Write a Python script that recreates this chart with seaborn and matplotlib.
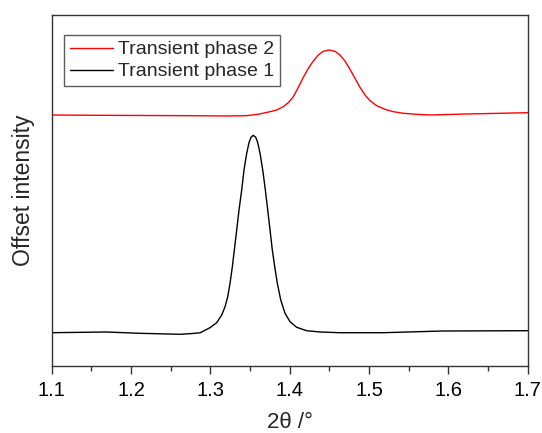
import matplotlib
matplotlib.use("Agg")
import matplotlib.pyplot as plt
from matplotlib.ticker import MultipleLocator, NullLocator
import seaborn as sns
import pandas as pd

# ---- data ----
two_theta_p1 = [1.100, 1.169, 1.211, 1.262, 1.274, 1.287, 1.2995, 1.3080, 1.3143, 1.3185,
                1.3219, 1.3248, 1.3277, 1.3302, 1.3332, 1.3361, 1.3395, 1.3424, 1.3458, 1.3487,
                1.3512, 1.3541, 1.3572, 1.3597, 1.3626, 1.3660, 1.3693, 1.3723, 1.3752, 1.3781,
                1.3811, 1.3844, 1.3887, 1.3941, 1.4004, 1.4088, 1.4214, 1.4382, 1.463, 1.518,
                1.593, 1.700]
intensity_p1 = [33.3, 34.0, 32.7, 31.7, 32.3, 33.2, 38.3, 43.3, 51.0, 59.3,
                69.3, 82.7, 99.3, 116.0, 136.0, 156.0, 176.0, 196.0, 212.7, 223.3,
                228.7, 230.7, 228.7, 223.3, 212.7, 196.0, 176.0, 156.0, 136.0, 116.0,
                99.3, 82.7, 66.0, 52.7, 44.3, 38.7, 35.3, 34.0, 33.3, 33.3,
                35.0, 35.3]

two_theta_p2 = [1.100, 1.160, 1.220, 1.280, 1.320, 1.345, 1.360, 1.3752, 1.3836, 1.3919,
                1.3982, 1.4046, 1.4109, 1.4172, 1.4235, 1.4298, 1.4361, 1.4424, 1.4499, 1.4571,
                1.4634, 1.4697, 1.4760, 1.4823, 1.4886, 1.4949, 1.5012, 1.5097, 1.5201, 1.5306,
                1.5432, 1.5601, 1.5769, 1.623, 1.700]
intensity_p2 = [33.0, 32.7, 32.5, 32.3, 32.0, 32.3, 33.7, 36.3, 38.0, 41.3,
                45.3, 51.3, 60.7, 70.7, 79.7, 87.0, 93.0, 96.7, 98.0, 96.7,
                93.0, 87.0, 78.7, 69.7, 60.7, 53.0, 47.3, 42.3, 38.7, 36.3,
                34.7, 33.7, 33.0, 34.0, 35.3]
offset_p2 = 218.0

labels = ["Transient phase 2", "Transient phase 1"]
colors = ["#FF0000", "#000000"]
x_ticks = [1.1, 1.2, 1.3, 1.4, 1.5, 1.6, 1.7]

df = pd.concat([
    pd.DataFrame({"two_theta": two_theta_p2,
                  "intensity": [v + offset_p2 for v in intensity_p2],
                  "phase": labels[0]}),
    pd.DataFrame({"two_theta": two_theta_p1,
                  "intensity": intensity_p1,
                  "phase": labels[1]}),
], ignore_index=True)

sns.set_style("white")
plt.rcParams["font.family"] = ["Liberation Sans", "DejaVu Sans"]

fig = plt.figure(figsize=(5.42, 4.33), dpi=100)
ax = fig.add_axes([51.7 / 542, 1 - 366 / 433, 476 / 542, 351 / 433])

sns.lineplot(data=df, x="two_theta", y="intensity", hue="phase",
             hue_order=labels, palette=colors, linewidth=1.0,
             sort=False, estimator=None, ax=ax)

ax.set_xlim(1.1, 1.7)
ax.set_ylim(0, 351)
ax.set_xticks(x_ticks)
ax.set_xticklabels([f"{t:.1f}" for t in x_ticks])
ax.xaxis.set_minor_locator(MultipleLocator(0.05))
ax.yaxis.set_major_locator(NullLocator())
ax.tick_params(axis="x", which="major", direction="out", length=6, width=1,
               labelsize=14.5, pad=4.5, colors="#333333", labelcolor="black",
               bottom=True, top=False)
ax.tick_params(axis="x", which="minor", direction="out", length=3.5, width=1,
               colors="#333333", bottom=True, top=False)

for s in ax.spines.values():
    s.set_visible(True)
    s.set_color("#333333")
    s.set_linewidth(1.0)

ax.set_xlabel("2\u03b8 /\u00b0", fontsize=16, labelpad=9)
ax.set_ylabel("Offset intensity", fontsize=16.5, labelpad=12)

leg = ax.legend(loc="upper left", bbox_to_anchor=(12.3 / 476, 1 - 20 / 351),
                borderaxespad=0, fontsize=14, frameon=True, fancybox=False,
                handlelength=2.2, handletextpad=0.3, labelspacing=0.22,
                borderpad=0.3, title=None)
leg.get_frame().set_edgecolor("#333333")
leg.get_frame().set_linewidth(1.0)

fig.savefig("out.png", dpi=100)
